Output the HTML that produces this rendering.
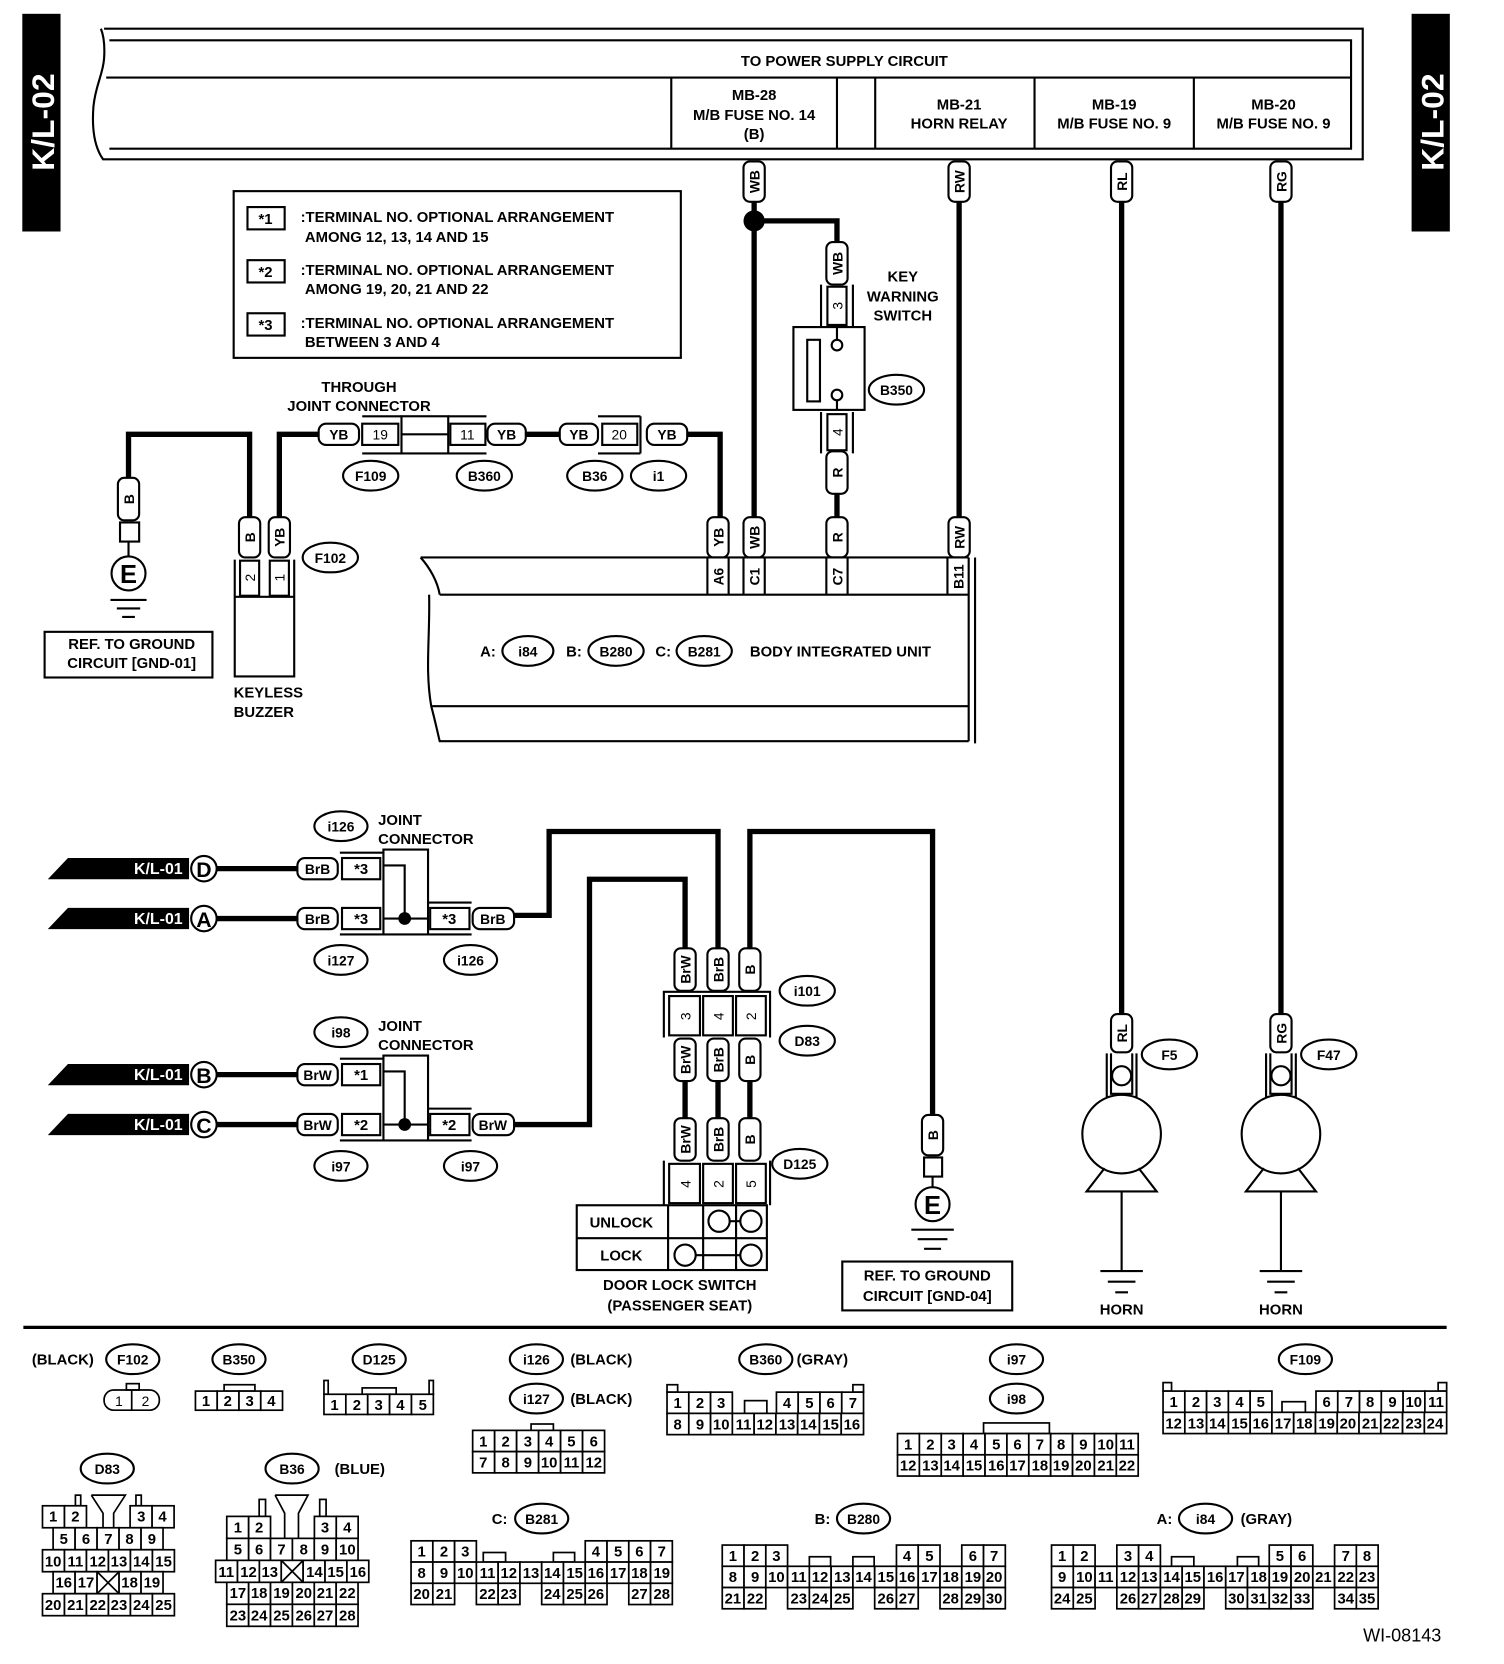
<!DOCTYPE html>
<html><head><meta charset="utf-8">
<style>
html,body{margin:0;padding:0;background:#fff;}
svg{display:block;}
text{font-family:"Liberation Sans",Arial,sans-serif;font-weight:bold;font-size:14px;fill:#000;}
.m{text-anchor:middle;}
.n{font-weight:normal;font-size:13px;text-anchor:middle;}
.g rect{fill:#fff;stroke:#000;stroke-width:1.6;}
.s{fill:none;stroke:#000;stroke-width:2;}
.w{fill:none;stroke:#000;stroke-width:5;}
.t{fill:#fff;stroke:#000;stroke-width:2;}
.o{fill:#fff;stroke:#000;stroke-width:2;}
.f{fill:#fff;text-anchor:end;font-size:15px;font-weight:bold;}
</style></head>
<body>
<svg width="1504" height="1664" viewBox="0 0 1416 1567" preserveAspectRatio="none" xmlns="http://www.w3.org/2000/svg">
<rect x="21" y="13" width="36" height="205" fill="#000"/>
<text transform="translate(51,115) rotate(-90)" class="m" style="font-size:30px;fill:#fff">K/L-02</text>
<rect x="1329" y="13" width="36" height="205" fill="#000"/>
<text transform="translate(1359,115) rotate(-90)" class="m" style="font-size:30px;fill:#fff">K/L-02</text>

<path class="s" d="M98,27 L1283,27 L1283,150 L97,150 C90,140 86,125 88,100 C90,80 97,70 98,55 C99,40 97,32 95,27" />
<path class="s" d="M103,38 L1272,38 L1272,140 L103,140 M100,73 L1272,73 M632,73 V140 M788,73 V140 M824,73 V140 M974,73 V140 M1124,73 V140"/>
<text x="795" y="62" class="m">TO POWER SUPPLY CIRCUIT</text>
<text x="710" y="94" class="m">MB-28</text><text x="710" y="113" class="m">M/B FUSE NO. 14</text><text x="710" y="131" class="m">(B)</text>
<text x="903" y="103" class="m">MB-21</text><text x="903" y="121" class="m">HORN RELAY</text>
<text x="1049" y="103" class="m">MB-19</text><text x="1049" y="121" class="m">M/B FUSE NO. 9</text>
<text x="1199" y="103" class="m">MB-20</text><text x="1199" y="121" class="m">M/B FUSE NO. 9</text>

<rect x="220" y="180" width="421" height="157" class="s"/>
<rect x="233" y="195" width="35" height="21" class="s"/><text x="250" y="211" class="m">*1</text>
<text x="283" y="209">:TERMINAL NO.  OPTIONAL ARRANGEMENT</text><text x="287" y="228">AMONG 12, 13, 14 AND 15</text>
<rect x="233" y="245" width="35" height="21" class="s"/><text x="250" y="261" class="m">*2</text>
<text x="283" y="259">:TERMINAL NO.  OPTIONAL ARRANGEMENT</text><text x="287" y="277">AMONG 19, 20, 21 AND 22</text>
<rect x="233" y="295" width="35" height="21" class="s"/><text x="250" y="311" class="m">*3</text>
<text x="283" y="309">:TERMINAL NO.  OPTIONAL ARRANGEMENT</text><text x="287" y="327">BETWEEN 3 AND 4</text>

<path class="w" d="M710,190 V500 M710,208 H788 V228 M788,465 V487 M903,190 V487 M1056,190 V955 M1206,190 V955"/>
<circle cx="710" cy="208" r="10" fill="#000"/>
<rect x="700" y="152" width="20" height="38" rx="6" class="t"/><text transform="translate(715,171) rotate(-90)" class="m" style="font-size:13px">WB</text>
<rect x="893" y="152" width="20" height="38" rx="6" class="t"/><text transform="translate(908,171) rotate(-90)" class="m" style="font-size:13px">RW</text>
<rect x="1046" y="152" width="20" height="38" rx="6" class="t"/><text transform="translate(1061,171) rotate(-90)" class="m" style="font-size:13px">RL</text>
<rect x="1196" y="152" width="20" height="38" rx="6" class="t"/><text transform="translate(1211,171) rotate(-90)" class="m" style="font-size:13px">RG</text>
<rect x="778" y="228" width="20" height="40" rx="6" class="t"/><text transform="translate(793,248) rotate(-90)" class="m" style="font-size:13px">WB</text>
<path class="s" d="M773,268 V308 M803,268 V308 M773,388 V427 M803,388 V427"/>
<rect x="779" y="270" width="18" height="36" class="s"/><text transform="translate(793,288) rotate(-90)" class="m n">3</text>
<rect x="747" y="308" width="67" height="78" class="s"/>
<rect x="760" y="320" width="12" height="58" class="s"/>
<path class="s" d="M788,308 V320 M788,377 V386"/>
<circle cx="788" cy="325" r="5" class="o"/><circle cx="788" cy="372" r="5" class="o"/>
<rect x="779" y="390" width="18" height="34" class="s"/><text transform="translate(793,407) rotate(-90)" class="m n">4</text>
<rect x="778" y="425" width="20" height="40" rx="6" class="t"/><text transform="translate(793,445) rotate(-90)" class="m" style="font-size:13px">R</text>
<ellipse cx="844" cy="367" rx="26" ry="14" class="o"/><text x="844" y="372" class="m" style="font-size:13px">B350</text>
<text x="850" y="265" class="m">KEY</text><text x="850" y="284" class="m">WARNING</text><text x="850" y="302" class="m">SWITCH</text>

<path class="w" d="M263,487 V409 H300 M493,409 H527 M647,409 H678 V487 M235,487 V409 H121 V450"/>
<path class="s" d="M341,392 H378 M341,427 H378 M422,392 H458 M422,427 H458 M563,392 H603 M563,427 H603 M603,392 V427"/>
<rect x="300" y="399" width="38" height="20" rx="7" class="t"/><text x="319" y="414" class="m" style="font-size:13px">YB</text>
<rect x="341" y="399" width="34" height="20" class="s"/><text x="358" y="414" class="m n">19</text>
<rect x="378" y="392" width="44" height="35" class="s"/><path class="s" d="M378,409 H422"/>
<rect x="424" y="399" width="33" height="20" class="s"/><text x="440" y="414" class="m n">11</text>
<rect x="459" y="399" width="36" height="20" rx="7" class="t"/><text x="477" y="414" class="m" style="font-size:13px">YB</text>
<rect x="527" y="399" width="36" height="20" rx="7" class="t"/><text x="545" y="414" class="m" style="font-size:13px">YB</text>
<rect x="567" y="399" width="33" height="20" class="s"/><text x="583" y="414" class="m n">20</text>
<rect x="609" y="399" width="38" height="20" rx="7" class="t"/><text x="628" y="414" class="m" style="font-size:13px">YB</text>
<text x="338" y="369" class="m">THROUGH</text><text x="338" y="387" class="m">JOINT CONNECTOR</text>
<ellipse cx="349" cy="448" rx="26" ry="14" class="o"/><text x="349" y="453" class="m" style="font-size:13px">F109</text>
<ellipse cx="456" cy="448" rx="26" ry="14" class="o"/><text x="456" y="453" class="m" style="font-size:13px">B360</text>
<ellipse cx="560" cy="448" rx="26" ry="14" class="o"/><text x="560" y="453" class="m" style="font-size:13px">B36</text>
<ellipse cx="620" cy="448" rx="26" ry="14" class="o"/><text x="620" y="453" class="m" style="font-size:13px">i1</text>

<rect x="111" y="450" width="20" height="40" rx="6" class="t"/><text transform="translate(126,470) rotate(-90)" class="m" style="font-size:13px">B</text>
<rect x="113" y="492" width="18" height="18" class="s"/>
<path class="s" d="M121,510 V524"/>
<circle cx="121" cy="540" r="16" class="o"/><text x="121" y="549" class="m" style="font-size:24px">E</text>
<path class="s" d="M104,565 H138 M110,573 H132 M115,581 H127"/>
<rect x="42" y="595" width="158" height="43" class="s"/>
<text x="124" y="611" class="m">REF. TO GROUND</text><text x="124" y="629" class="m">CIRCUIT [GND-01]</text>
<rect x="225" y="487" width="20" height="38" rx="6" class="t"/><text transform="translate(240,506) rotate(-90)" class="m" style="font-size:13px">B</text>
<rect x="253" y="487" width="20" height="38" rx="6" class="t"/><text transform="translate(268,506) rotate(-90)" class="m" style="font-size:13px">YB</text>
<path class="s" d="M221,527 V637 H277 V527 M221,562 H277"/>
<rect x="226" y="528" width="18" height="33" class="s"/><text transform="translate(240,544) rotate(-90)" class="m n">2</text>
<rect x="254" y="528" width="18" height="33" class="s"/><text transform="translate(268,544) rotate(-90)" class="m n">1</text>
<ellipse cx="311" cy="525" rx="26" ry="14" class="o"/><text x="311" y="530" class="m" style="font-size:13px">F102</text>
<text x="220" y="657">KEYLESS</text><text x="220" y="675">BUZZER</text>

<rect x="666" y="487" width="20" height="38" rx="6" class="t"/><text transform="translate(681,506) rotate(-90)" class="m" style="font-size:13px">YB</text>
<rect x="700" y="487" width="20" height="38" rx="6" class="t"/><text transform="translate(715,506) rotate(-90)" class="m" style="font-size:13px">WB</text>
<rect x="778" y="487" width="20" height="38" rx="6" class="t"/><text transform="translate(793,506) rotate(-90)" class="m" style="font-size:13px">R</text>
<rect x="893" y="487" width="20" height="38" rx="6" class="t"/><text transform="translate(908,506) rotate(-90)" class="m" style="font-size:13px">RW</text>
<path class="s" d="M396,525 H912 M912,525 V698 M918,525 V700 M396,525 C405,535 412,548 414,560 M414,560 H912 M404,560 C405,600 400,630 406,665 M406,665 H912 M406,665 C410,680 412,690 414,698 H912"/>
<path class="s" d="M666,525 V560 M686,525 V560 M700,525 V560 M720,525 V560 M778,525 V560 M798,525 V560 M892,525 V560"/>
<text transform="translate(681,543) rotate(-90)" class="m" style="font-size:13px">A6</text>
<text transform="translate(715,543) rotate(-90)" class="m" style="font-size:13px">C1</text>
<text transform="translate(793,543) rotate(-90)" class="m" style="font-size:13px">C7</text>
<text transform="translate(907,543) rotate(-90)" class="m" style="font-size:13px">B11</text>
<text x="452" y="618">A:</text><ellipse cx="497" cy="613" rx="24" ry="14" class="o"/><text x="497" y="618" class="m" style="font-size:13px">i84</text>
<text x="533" y="618">B:</text><ellipse cx="580" cy="613" rx="26" ry="14" class="o"/><text x="580" y="618" class="m" style="font-size:13px">B280</text>
<text x="617" y="618">C:</text><ellipse cx="663" cy="613" rx="26" ry="14" class="o"/><text x="663" y="618" class="m" style="font-size:13px">B281</text>
<text x="706" y="618">BODY INTEGRATED UNIT</text>

<path d="M64,808 H178 V828 H45 Z" fill="#000"/><text x="172" y="823" class="f">K/L-01</text>
<path d="M64,855 H178 V875 H45 Z" fill="#000"/><text x="172" y="870" class="f">K/L-01</text>
<path d="M64,1002 H178 V1022 H45 Z" fill="#000"/><text x="172" y="1017" class="f">K/L-01</text>
<path d="M64,1049 H178 V1069 H45 Z" fill="#000"/><text x="172" y="1064" class="f">K/L-01</text>
<path class="w" d="M204,818 H280 M204,865 H280 M204,1012 H280 M204,1059 H280"/>
<circle cx="192" cy="818" r="12" class="o"/><text x="192" y="826" class="m" style="font-size:20px">D</text>
<circle cx="192" cy="865" r="12" class="o"/><text x="192" y="873" class="m" style="font-size:20px">A</text>
<circle cx="192" cy="1012" r="12" class="o"/><text x="192" y="1020" class="m" style="font-size:20px">B</text>
<circle cx="192" cy="1059" r="12" class="o"/><text x="192" y="1067" class="m" style="font-size:20px">C</text>

<ellipse cx="321" cy="778" rx="25" ry="14" class="o"/><text x="321" y="783" class="m" style="font-size:13px">i126</text>
<text x="356" y="777">JOINT</text><text x="356" y="795">CONNECTOR</text>
<rect x="280" y="808" width="38" height="20" rx="7" class="t"/><text x="299" y="823" class="m" style="font-size:13px">BrB</text>
<rect x="280" y="855" width="38" height="20" rx="7" class="t"/><text x="299" y="870" class="m" style="font-size:13px">BrB</text>
<rect x="322" y="808" width="36" height="20" class="s"/><text x="340" y="823" class="m">*3</text>
<rect x="322" y="855" width="36" height="20" class="s"/><text x="340" y="870" class="m">*3</text>
<path class="s" d="M320,803 H361 M320,880 H361 M361,800 H403 V880 H361 Z M361,815 H381 V865 M361,865 H403 M404,850 H444 M404,880 H444"/>
<circle cx="381" cy="865" r="6" fill="#000"/>
<rect x="405" y="855" width="37" height="20" class="s"/><text x="423" y="870" class="m">*3</text>
<rect x="445" y="855" width="39" height="20" rx="7" class="t"/><text x="464" y="870" class="m" style="font-size:13px">BrB</text>
<ellipse cx="321" cy="904" rx="25" ry="14" class="o"/><text x="321" y="909" class="m" style="font-size:13px">i127</text>
<ellipse cx="443" cy="904" rx="25" ry="14" class="o"/><text x="443" y="909" class="m" style="font-size:13px">i126</text>

<ellipse cx="321" cy="972" rx="25" ry="14" class="o"/><text x="321" y="977" class="m" style="font-size:13px">i98</text>
<text x="356" y="971">JOINT</text><text x="356" y="989">CONNECTOR</text>
<rect x="280" y="1002" width="38" height="20" rx="7" class="t"/><text x="299" y="1017" class="m" style="font-size:13px">BrW</text>
<rect x="280" y="1049" width="38" height="20" rx="7" class="t"/><text x="299" y="1064" class="m" style="font-size:13px">BrW</text>
<rect x="322" y="1002" width="36" height="20" class="s"/><text x="340" y="1017" class="m">*1</text>
<rect x="322" y="1049" width="36" height="20" class="s"/><text x="340" y="1064" class="m">*2</text>
<path class="s" d="M320,997 H361 M320,1074 H361 M361,994 H403 V1074 H361 Z M361,1009 H381 V1059 M361,1059 H403 M404,1044 H444 M404,1074 H444"/>
<circle cx="381" cy="1059" r="6" fill="#000"/>
<rect x="405" y="1049" width="37" height="20" class="s"/><text x="423" y="1064" class="m">*2</text>
<rect x="445" y="1049" width="39" height="20" rx="7" class="t"/><text x="464" y="1064" class="m" style="font-size:13px">BrW</text>
<ellipse cx="321" cy="1098" rx="25" ry="14" class="o"/><text x="321" y="1103" class="m" style="font-size:13px">i97</text>
<ellipse cx="443" cy="1098" rx="25" ry="14" class="o"/><text x="443" y="1103" class="m" style="font-size:13px">i97</text>

<path class="w" d="M484,862 H517 V783 H676 V895 M484,1059 H555 V828 H645 V895 M706,895 V783 H878 V1050 M645,1018 V1055 M676,1018 V1055 M706,1018 V1055"/>
<rect x="635" y="893" width="20" height="40" rx="6" class="t"/><text transform="translate(650,913) rotate(-90)" class="m" style="font-size:13px">BrW</text>
<rect x="666" y="893" width="20" height="40" rx="6" class="t"/><text transform="translate(681,913) rotate(-90)" class="m" style="font-size:13px">BrB</text>
<rect x="696" y="893" width="20" height="40" rx="6" class="t"/><text transform="translate(711,913) rotate(-90)" class="m" style="font-size:13px">B</text>
<path class="s" d="M625,933 V977 M725,933 V977 M625,934 H725"/>
<rect x="630" y="938" width="29" height="37" class="s"/><text transform="translate(650,957) rotate(-90)" class="m n">3</text>
<rect x="662" y="938" width="28" height="37" class="s"/><text transform="translate(681,957) rotate(-90)" class="m n">4</text>
<rect x="693" y="938" width="28" height="37" class="s"/><text transform="translate(712,957) rotate(-90)" class="m n">2</text>
<ellipse cx="760" cy="933" rx="26" ry="14" class="o"/><text x="760" y="938" class="m" style="font-size:13px">i101</text>
<ellipse cx="760" cy="980" rx="26" ry="14" class="o"/><text x="760" y="985" class="m" style="font-size:13px">D83</text>
<rect x="635" y="978" width="20" height="40" rx="6" class="t"/><text transform="translate(650,998) rotate(-90)" class="m" style="font-size:13px">BrW</text>
<rect x="666" y="978" width="20" height="40" rx="6" class="t"/><text transform="translate(681,998) rotate(-90)" class="m" style="font-size:13px">BrB</text>
<rect x="696" y="978" width="20" height="40" rx="6" class="t"/><text transform="translate(711,998) rotate(-90)" class="m" style="font-size:13px">B</text>
<rect x="635" y="1053" width="20" height="40" rx="6" class="t"/><text transform="translate(650,1073) rotate(-90)" class="m" style="font-size:13px">BrW</text>
<rect x="666" y="1053" width="20" height="40" rx="6" class="t"/><text transform="translate(681,1073) rotate(-90)" class="m" style="font-size:13px">BrB</text>
<rect x="696" y="1053" width="20" height="40" rx="6" class="t"/><text transform="translate(711,1073) rotate(-90)" class="m" style="font-size:13px">B</text>
<path class="s" d="M625,1093 V1135 M725,1093 V1135"/>
<rect x="630" y="1096" width="29" height="37" class="s"/><text transform="translate(650,1115) rotate(-90)" class="m n">4</text>
<rect x="662" y="1096" width="28" height="37" class="s"/><text transform="translate(681,1115) rotate(-90)" class="m n">2</text>
<rect x="693" y="1096" width="28" height="37" class="s"/><text transform="translate(712,1115) rotate(-90)" class="m n">5</text>
<ellipse cx="753" cy="1096" rx="26" ry="14" class="o"/><text x="753" y="1101" class="m" style="font-size:13px">D125</text>
<rect x="543" y="1135" width="179" height="61" class="s"/>
<path class="s" d="M543,1166 H722 M629,1135 V1196 M662,1135 V1196 M693,1135 V1196 M687,1150 H697 M655,1182 H697"/>
<circle cx="677" cy="1150" r="10" class="o"/><circle cx="707" cy="1150" r="10" class="o"/>
<circle cx="645" cy="1182" r="10" class="o"/><circle cx="707" cy="1182" r="10" class="o"/>
<text x="585" y="1156" class="m">UNLOCK</text><text x="585" y="1187" class="m">LOCK</text>
<text x="640" y="1215" class="m">DOOR LOCK SWITCH</text><text x="640" y="1234" class="m">(PASSENGER SEAT)</text>
<rect x="868" y="1050" width="20" height="38" rx="6" class="t"/><text transform="translate(883,1069) rotate(-90)" class="m" style="font-size:13px">B</text>
<rect x="870" y="1090" width="17" height="18" class="s"/>
<path class="s" d="M878,1108 V1118"/>
<circle cx="878" cy="1134" r="16" class="o"/><text x="878" y="1143" class="m" style="font-size:24px">E</text>
<path class="s" d="M858,1158 H898 M864,1167 H892 M870,1176 H886"/>
<rect x="793" y="1188" width="160" height="46" class="s"/>
<text x="873" y="1206" class="m">REF. TO GROUND</text><text x="873" y="1225" class="m">CIRCUIT [GND-04]</text>

<rect x="1046" y="955" width="20" height="36" rx="6" class="t"/><text transform="translate(1061,973) rotate(-90)" class="m" style="font-size:13px">RL</text>
<path class="s" d="M1042,992 V1033 H1070 V992 M1046,992 V1030 H1066 V992"/>
<circle cx="1056" cy="1013" r="9" class="o"/>
<circle cx="1056" cy="1068" r="37" class="o"/>
<path class="s" d="M1040,1100 L1023,1122 H1089 L1072,1100 M1056,1122 V1196 M1036,1197 H1076 M1043,1207 H1069 M1050,1217 H1062"/>
<ellipse cx="1101" cy="993" rx="26" ry="14" class="o"/><text x="1101" y="998" class="m" style="font-size:13px">F5</text>
<text x="1056" y="1238" class="m">HORN</text>
<rect x="1196" y="955" width="20" height="36" rx="6" class="t"/><text transform="translate(1211,973) rotate(-90)" class="m" style="font-size:13px">RG</text>
<path class="s" d="M1192,992 V1033 H1220 V992 M1196,992 V1030 H1216 V992"/>
<circle cx="1206" cy="1013" r="9" class="o"/>
<circle cx="1206" cy="1068" r="37" class="o"/>
<path class="s" d="M1190,1100 L1173,1122 H1239 L1222,1100 M1206,1122 V1196 M1186,1197 H1226 M1193,1207 H1219 M1200,1217 H1212"/>
<ellipse cx="1251" cy="993" rx="26" ry="14" class="o"/><text x="1251" y="998" class="m" style="font-size:13px">F47</text>
<text x="1206" y="1238" class="m">HORN</text>

<line x1="22" y1="1250" x2="1362" y2="1250" stroke="#000" stroke-width="3"/>

<text x="30" y="1285">(BLACK)</text>
<ellipse cx="125" cy="1280" rx="25" ry="14" class="o"/><text x="125" y="1285" class="m" style="font-size:13px">F102</text>
<ellipse cx="225" cy="1280" rx="25" ry="14" class="o"/><text x="225" y="1285" class="m" style="font-size:13px">B350</text>
<ellipse cx="357" cy="1280" rx="25" ry="14" class="o"/><text x="357" y="1285" class="m" style="font-size:13px">D125</text>
<ellipse cx="505" cy="1280" rx="25" ry="14" class="o"/><text x="505" y="1285" class="m" style="font-size:13px">i126</text><text x="537" y="1285">(BLACK)</text>
<ellipse cx="505" cy="1317" rx="25" ry="14" class="o"/><text x="505" y="1322" class="m" style="font-size:13px">i127</text><text x="537" y="1322">(BLACK)</text>
<ellipse cx="721" cy="1280" rx="25" ry="14" class="o"/><text x="721" y="1285" class="m" style="font-size:13px">B360</text><text x="750" y="1285">(GRAY)</text>
<ellipse cx="957" cy="1280" rx="25" ry="14" class="o"/><text x="957" y="1285" class="m" style="font-size:13px">i97</text>
<ellipse cx="957" cy="1317" rx="25" ry="14" class="o"/><text x="957" y="1322" class="m" style="font-size:13px">i98</text>
<ellipse cx="1229" cy="1280" rx="25" ry="14" class="o"/><text x="1229" y="1285" class="m" style="font-size:13px">F109</text>
<ellipse cx="101" cy="1383" rx="25" ry="14" class="o"/><text x="101" y="1388" class="m" style="font-size:13px">D83</text>
<ellipse cx="275" cy="1383" rx="25" ry="14" class="o"/><text x="275" y="1388" class="m" style="font-size:13px">B36</text><text x="315" y="1388">(BLUE)</text>
<text x="463" y="1435">C:</text><ellipse cx="510" cy="1430" rx="25" ry="14" class="o"/><text x="510" y="1435" class="m" style="font-size:13px">B281</text>
<text x="767" y="1435">B:</text><ellipse cx="813" cy="1430" rx="25" ry="14" class="o"/><text x="813" y="1435" class="m" style="font-size:13px">B280</text>
<text x="1089" y="1435">A:</text><ellipse cx="1135" cy="1430" rx="25" ry="14" class="o"/><text x="1135" y="1435" class="m" style="font-size:13px">i84</text><text x="1168" y="1435">(GRAY)</text>
<text x="1357" y="1546" style="text-anchor:end;font-weight:normal;font-size:17px">WI-08143</text>

<rect x="119" y="1303" width="12" height="6" class="s" style="stroke-width:1.6"/>
<rect x="98" y="1309" width="52" height="19" rx="9" class="s" style="stroke-width:1.6"/>
<path class="s" d="M124,1309 V1328" style="stroke-width:1.6"/>
<text x="112" y="1324" class="n">1</text><text x="137" y="1324" class="n">2</text>

<g class="g">
<rect x="211" y="1304" width="29" height="6"/>
<rect x="184" y="1310" width="20.5" height="18"/><rect x="204.5" y="1310" width="20.5" height="18"/><rect x="225" y="1310" width="20.5" height="18"/><rect x="245.5" y="1310" width="20.5" height="18"/>
<rect x="305" y="1300" width="4" height="13"/><rect x="404" y="1300" width="4" height="13"/><rect x="341" y="1307" width="32" height="6"/>
<rect x="305" y="1313" width="20.6" height="19"/><rect x="325.6" y="1313" width="20.6" height="19"/><rect x="346.2" y="1313" width="20.6" height="19"/><rect x="366.8" y="1313" width="20.6" height="19"/><rect x="387.4" y="1313" width="20.6" height="19"/>
<rect x="500" y="1341" width="21" height="6"/>
<rect x="445" y="1347" width="20.7" height="20"/><rect x="465.7" y="1347" width="20.7" height="20"/><rect x="486.4" y="1347" width="20.7" height="20"/><rect x="507.1" y="1347" width="20.7" height="20"/><rect x="527.8" y="1347" width="20.7" height="20"/><rect x="548.5" y="1347" width="20.7" height="20"/>
<rect x="445" y="1367" width="20.7" height="20"/><rect x="465.7" y="1367" width="20.7" height="20"/><rect x="486.4" y="1367" width="20.7" height="20"/><rect x="507.1" y="1367" width="20.7" height="20"/><rect x="527.8" y="1367" width="20.7" height="20"/><rect x="548.5" y="1367" width="20.7" height="20"/>
<rect x="628" y="1304" width="10" height="7"/><rect x="803" y="1304" width="10" height="7"/><rect x="701" y="1319" width="21" height="12"/>
<rect x="628" y="1311" width="20.5" height="20"/><rect x="648.5" y="1311" width="20.5" height="20"/><rect x="669" y="1311" width="20.5" height="20"/>
<rect x="731" y="1311" width="20.5" height="20"/><rect x="751.5" y="1311" width="20.5" height="20"/><rect x="772" y="1311" width="20.5" height="20"/><rect x="792.5" y="1311" width="20.5" height="20"/>
<rect x="628" y="1331" width="20.5" height="20"/><rect x="648.5" y="1331" width="20.5" height="20"/><rect x="669" y="1331" width="20.5" height="20"/><rect x="689.5" y="1331" width="20.5" height="20"/><rect x="710" y="1331" width="20.5" height="20"/><rect x="730.5" y="1331" width="20.5" height="20"/><rect x="751" y="1331" width="20.5" height="20"/><rect x="771.5" y="1331" width="20.5" height="20"/><rect x="792" y="1331" width="21" height="20"/>
<rect x="926" y="1340" width="62" height="10"/>
<rect x="845" y="1350" width="20.6" height="20"/><rect x="865.6" y="1350" width="20.6" height="20"/><rect x="886.2" y="1350" width="20.6" height="20"/><rect x="906.8" y="1350" width="20.6" height="20"/><rect x="927.4" y="1350" width="20.6" height="20"/><rect x="948" y="1350" width="20.6" height="20"/><rect x="968.6" y="1350" width="20.6" height="20"/><rect x="989.2" y="1350" width="20.6" height="20"/><rect x="1009.8" y="1350" width="20.6" height="20"/><rect x="1030.4" y="1350" width="20.6" height="20"/><rect x="1051" y="1350" width="20.6" height="20"/>
<rect x="845" y="1370" width="20.6" height="20"/><rect x="865.6" y="1370" width="20.6" height="20"/><rect x="886.2" y="1370" width="20.6" height="20"/><rect x="906.8" y="1370" width="20.6" height="20"/><rect x="927.4" y="1370" width="20.6" height="20"/><rect x="948" y="1370" width="20.6" height="20"/><rect x="968.6" y="1370" width="20.6" height="20"/><rect x="989.2" y="1370" width="20.6" height="20"/><rect x="1009.8" y="1370" width="20.6" height="20"/><rect x="1030.4" y="1370" width="20.6" height="20"/><rect x="1051" y="1370" width="20.6" height="20"/>
<rect x="1095" y="1302" width="8" height="8"/><rect x="1354" y="1302" width="8" height="8"/><rect x="1207" y="1320" width="22" height="10"/>
<rect x="1095" y="1310" width="20.5" height="20"/><rect x="1115.5" y="1310" width="20.5" height="20"/><rect x="1136" y="1310" width="20.5" height="20"/><rect x="1156.5" y="1310" width="20.5" height="20"/><rect x="1177" y="1310" width="20.5" height="20"/>
<rect x="1239" y="1310" width="20.5" height="20"/><rect x="1259.5" y="1310" width="20.5" height="20"/><rect x="1280" y="1310" width="20.5" height="20"/><rect x="1300.5" y="1310" width="20.5" height="20"/><rect x="1321" y="1310" width="20.5" height="20"/><rect x="1341.5" y="1310" width="20.5" height="20"/>
<rect x="1095" y="1330" width="20.5" height="20"/><rect x="1115.5" y="1330" width="20.5" height="20"/><rect x="1136" y="1330" width="20.5" height="20"/><rect x="1156.5" y="1330" width="20.5" height="20"/><rect x="1177" y="1330" width="20.5" height="20"/><rect x="1197.5" y="1330" width="20.5" height="20"/><rect x="1218" y="1330" width="20.5" height="20"/><rect x="1238.5" y="1330" width="20.5" height="20"/><rect x="1259" y="1330" width="20.5" height="20"/><rect x="1279.5" y="1330" width="20.5" height="20"/><rect x="1300" y="1330" width="20.5" height="20"/><rect x="1320.5" y="1330" width="20.5" height="20"/><rect x="1341" y="1330" width="21" height="20"/>
<rect x="71" y="1408" width="5" height="10"/><rect x="128" y="1408" width="5" height="10"/>
<rect x="40" y="1418" width="20.7" height="20.7"/><rect x="60.7" y="1418" width="20.7" height="20.7"/><rect x="122.5" y="1418" width="20.7" height="20.7"/><rect x="143.2" y="1418" width="20.7" height="20.7"/>
<rect x="50" y="1438.7" width="20.7" height="20.7"/><rect x="70.7" y="1438.7" width="20.7" height="20.7"/><rect x="91.4" y="1438.7" width="20.7" height="20.7"/><rect x="112.1" y="1438.7" width="20.7" height="20.7"/><rect x="132.8" y="1438.7" width="20.7" height="20.7"/>
<rect x="40" y="1459.4" width="20.7" height="20.7"/><rect x="60.7" y="1459.4" width="20.7" height="20.7"/><rect x="81.4" y="1459.4" width="20.7" height="20.7"/><rect x="102.1" y="1459.4" width="20.7" height="20.7"/><rect x="122.8" y="1459.4" width="20.7" height="20.7"/><rect x="143.5" y="1459.4" width="20.7" height="20.7"/>
<rect x="50" y="1480.1" width="20.7" height="20.7"/><rect x="70.7" y="1480.1" width="20.7" height="20.7"/><rect x="91.4" y="1480.1" width="20.7" height="20.7"/><rect x="112.1" y="1480.1" width="20.7" height="20.7"/><rect x="132.8" y="1480.1" width="20.7" height="20.7"/>
<rect x="40" y="1500.8" width="20.7" height="20.7"/><rect x="60.7" y="1500.8" width="20.7" height="20.7"/><rect x="81.4" y="1500.8" width="20.7" height="20.7"/><rect x="102.1" y="1500.8" width="20.7" height="20.7"/><rect x="122.8" y="1500.8" width="20.7" height="20.7"/><rect x="143.5" y="1500.8" width="20.7" height="20.7"/>
<rect x="244" y="1412" width="6" height="16"/><rect x="301" y="1412" width="6" height="16"/>
<rect x="213.5" y="1428" width="20.6" height="20.7"/><rect x="234.1" y="1428" width="20.6" height="20.7"/><rect x="296" y="1428" width="20.6" height="20.7"/><rect x="316.6" y="1428" width="20.6" height="20.7"/>
<rect x="213.5" y="1448.7" width="20.6" height="20.7"/><rect x="234.1" y="1448.7" width="20.6" height="20.7"/><rect x="254.7" y="1448.7" width="20.6" height="20.7"/><rect x="275.3" y="1448.7" width="20.6" height="20.7"/><rect x="295.9" y="1448.7" width="20.6" height="20.7"/><rect x="316.5" y="1448.7" width="20.6" height="20.7"/>
<rect x="203" y="1469.4" width="20.6" height="20.7"/><rect x="223.6" y="1469.4" width="20.6" height="20.7"/><rect x="244.2" y="1469.4" width="20.6" height="20.7"/><rect x="264.8" y="1469.4" width="20.6" height="20.7"/><rect x="285.4" y="1469.4" width="20.6" height="20.7"/><rect x="306" y="1469.4" width="20.6" height="20.7"/><rect x="326.6" y="1469.4" width="20.6" height="20.7"/>
<rect x="213.5" y="1490.1" width="20.6" height="20.7"/><rect x="234.1" y="1490.1" width="20.6" height="20.7"/><rect x="254.7" y="1490.1" width="20.6" height="20.7"/><rect x="275.3" y="1490.1" width="20.6" height="20.7"/><rect x="295.9" y="1490.1" width="20.6" height="20.7"/><rect x="316.5" y="1490.1" width="20.6" height="20.7"/>
<rect x="213.5" y="1510.8" width="20.6" height="20.7"/><rect x="234.1" y="1510.8" width="20.6" height="20.7"/><rect x="254.7" y="1510.8" width="20.6" height="20.7"/><rect x="275.3" y="1510.8" width="20.6" height="20.7"/><rect x="295.9" y="1510.8" width="20.6" height="20.7"/><rect x="316.5" y="1510.8" width="20.6" height="20.7"/>
<rect x="455" y="1462" width="21" height="9"/><rect x="521" y="1462" width="20" height="9"/>
<rect x="387" y="1451" width="20.5" height="20"/><rect x="407.5" y="1451" width="20.5" height="20"/><rect x="428" y="1451" width="20.5" height="20"/>
<rect x="551" y="1451" width="20.5" height="20"/><rect x="571.5" y="1451" width="20.5" height="20"/><rect x="592" y="1451" width="20.5" height="20"/><rect x="612.5" y="1451" width="20.5" height="20"/>
<rect x="387" y="1471" width="20.5" height="20"/><rect x="407.5" y="1471" width="20.5" height="20"/><rect x="428" y="1471" width="20.5" height="20"/><rect x="448.5" y="1471" width="20.5" height="20"/><rect x="469" y="1471" width="20.5" height="20"/><rect x="489.5" y="1471" width="20.5" height="20"/><rect x="510" y="1471" width="20.5" height="20"/><rect x="530.5" y="1471" width="20.5" height="20"/><rect x="551" y="1471" width="20.5" height="20"/><rect x="571.5" y="1471" width="20.5" height="20"/><rect x="592" y="1471" width="20.5" height="20"/><rect x="612.5" y="1471" width="20.5" height="20"/>
<rect x="387" y="1491" width="20.5" height="20"/><rect x="407.5" y="1491" width="20.5" height="20"/><rect x="448.5" y="1491" width="20.5" height="20"/><rect x="469" y="1491" width="20.5" height="20"/><rect x="510" y="1491" width="20.5" height="20"/><rect x="530.5" y="1491" width="20.5" height="20"/><rect x="551" y="1491" width="20.5" height="20"/><rect x="592" y="1491" width="20.5" height="20"/><rect x="612.5" y="1491" width="20.5" height="20"/>
<rect x="762" y="1466" width="20" height="9"/><rect x="803" y="1466" width="20" height="9"/>
<rect x="680" y="1455" width="20.5" height="20"/><rect x="700.5" y="1455" width="20.5" height="20"/><rect x="721" y="1455" width="20.5" height="20"/>
<rect x="844" y="1455" width="20.5" height="20"/><rect x="864.5" y="1455" width="20.5" height="20"/><rect x="905.5" y="1455" width="20.5" height="20"/><rect x="926" y="1455" width="20.5" height="20"/>
<rect x="680" y="1475" width="20.5" height="20"/><rect x="700.5" y="1475" width="20.5" height="20"/><rect x="721" y="1475" width="20.5" height="20"/><rect x="741.5" y="1475" width="20.5" height="20"/><rect x="762" y="1475" width="20.5" height="20"/><rect x="782.5" y="1475" width="20.5" height="20"/><rect x="803" y="1475" width="20.5" height="20"/><rect x="823.5" y="1475" width="20.5" height="20"/><rect x="844" y="1475" width="20.5" height="20"/><rect x="864.5" y="1475" width="20.5" height="20"/><rect x="885" y="1475" width="20.5" height="20"/><rect x="905.5" y="1475" width="20.5" height="20"/><rect x="926" y="1475" width="20.5" height="20"/>
<rect x="680" y="1495" width="20.5" height="20"/><rect x="700.5" y="1495" width="20.5" height="20"/><rect x="741.5" y="1495" width="20.5" height="20"/><rect x="762" y="1495" width="20.5" height="20"/><rect x="782.5" y="1495" width="20.5" height="20"/><rect x="823.5" y="1495" width="20.5" height="20"/><rect x="844" y="1495" width="20.5" height="20"/><rect x="885" y="1495" width="20.5" height="20"/><rect x="905.5" y="1495" width="20.5" height="20"/><rect x="926" y="1495" width="20.5" height="20"/>
<rect x="1103" y="1466" width="21" height="9"/><rect x="1165" y="1466" width="20" height="9"/>
<rect x="990" y="1455" width="20.5" height="20"/><rect x="1010.5" y="1455" width="20.5" height="20"/><rect x="1051.5" y="1455" width="20.5" height="20"/><rect x="1072" y="1455" width="20.5" height="20"/>
<rect x="1195" y="1455" width="20.5" height="20"/><rect x="1215.5" y="1455" width="20.5" height="20"/><rect x="1256.5" y="1455" width="20.5" height="20"/><rect x="1277" y="1455" width="20.5" height="20"/>
<rect x="990" y="1475" width="20.5" height="20"/><rect x="1010.5" y="1475" width="20.5" height="20"/><rect x="1031" y="1475" width="20.5" height="20"/><rect x="1051.5" y="1475" width="20.5" height="20"/><rect x="1072" y="1475" width="20.5" height="20"/><rect x="1092.5" y="1475" width="20.5" height="20"/><rect x="1113" y="1475" width="20.5" height="20"/><rect x="1133.5" y="1475" width="20.5" height="20"/><rect x="1154" y="1475" width="20.5" height="20"/><rect x="1174.5" y="1475" width="20.5" height="20"/><rect x="1195" y="1475" width="20.5" height="20"/><rect x="1215.5" y="1475" width="20.5" height="20"/><rect x="1236" y="1475" width="20.5" height="20"/><rect x="1256.5" y="1475" width="20.5" height="20"/><rect x="1277" y="1475" width="20.5" height="20"/>
<rect x="990" y="1495" width="20.5" height="20"/><rect x="1010.5" y="1495" width="20.5" height="20"/><rect x="1051.5" y="1495" width="20.5" height="20"/><rect x="1072" y="1495" width="20.5" height="20"/><rect x="1092.5" y="1495" width="20.5" height="20"/><rect x="1113" y="1495" width="20.5" height="20"/><rect x="1154" y="1495" width="20.5" height="20"/><rect x="1174.5" y="1495" width="20.5" height="20"/><rect x="1195" y="1495" width="20.5" height="20"/><rect x="1215.5" y="1495" width="20.5" height="20"/><rect x="1256.5" y="1495" width="20.5" height="20"/><rect x="1277" y="1495" width="20.5" height="20"/>
</g>
<path class="s" style="stroke-width:1.6" d="M86,1408 H118 L107,1425 V1439 M86,1408 L97,1425 V1439 M259,1408 H290 L281,1425 V1449 M259,1408 L268,1425 V1449 M91.4,1480.1 L112.1,1500.8 M112.1,1480.1 L91.4,1500.8 M264.8,1469.4 L285.4,1490.1 M285.4,1469.4 L264.8,1490.1"/>

<g class="n">
<text x="194" y="1324">1</text><text x="214.5" y="1324">2</text><text x="235" y="1324">3</text><text x="255.5" y="1324">4</text>
<text x="315" y="1328">1</text><text x="336" y="1328">2</text><text x="356.5" y="1328">3</text><text x="377" y="1328">4</text><text x="398" y="1328">5</text>
<text x="455" y="1362">1</text><text x="476" y="1362">2</text><text x="497" y="1362">3</text><text x="517" y="1362">4</text><text x="538" y="1362">5</text><text x="559" y="1362">6</text>
<text x="455" y="1382">7</text><text x="476" y="1382">8</text><text x="497" y="1382">9</text><text x="517" y="1382">10</text><text x="538" y="1382">11</text><text x="559" y="1382">12</text>
<text x="638" y="1326">1</text><text x="659" y="1326">2</text><text x="679" y="1326">3</text><text x="741" y="1326">4</text><text x="762" y="1326">5</text><text x="782" y="1326">6</text><text x="803" y="1326">7</text>
<text x="638" y="1346">8</text><text x="659" y="1346">9</text><text x="679" y="1346">10</text><text x="700" y="1346">11</text><text x="720" y="1346">12</text><text x="741" y="1346">13</text><text x="761" y="1346">14</text><text x="782" y="1346">15</text><text x="802" y="1346">16</text>
<text x="855" y="1365">1</text><text x="876" y="1365">2</text><text x="896" y="1365">3</text><text x="917" y="1365">4</text><text x="938" y="1365">5</text><text x="958" y="1365">6</text><text x="979" y="1365">7</text><text x="999" y="1365">8</text><text x="1020" y="1365">9</text><text x="1041" y="1365">10</text><text x="1061" y="1365">11</text>
<text x="855" y="1385">12</text><text x="876" y="1385">13</text><text x="896" y="1385">14</text><text x="917" y="1385">15</text><text x="938" y="1385">16</text><text x="958" y="1385">17</text><text x="979" y="1385">18</text><text x="999" y="1385">19</text><text x="1020" y="1385">20</text><text x="1041" y="1385">21</text><text x="1061" y="1385">22</text>
<text x="1105" y="1325">1</text><text x="1126" y="1325">2</text><text x="1146" y="1325">3</text><text x="1167" y="1325">4</text><text x="1187" y="1325">5</text><text x="1249" y="1325">6</text><text x="1270" y="1325">7</text><text x="1290" y="1325">8</text><text x="1311" y="1325">9</text><text x="1331" y="1325">10</text><text x="1352" y="1325">11</text>
<text x="1105" y="1345">12</text><text x="1126" y="1345">13</text><text x="1146" y="1345">14</text><text x="1167" y="1345">15</text><text x="1187" y="1345">16</text><text x="1208" y="1345">17</text><text x="1228" y="1345">18</text><text x="1249" y="1345">19</text><text x="1269" y="1345">20</text><text x="1290" y="1345">21</text><text x="1310" y="1345">22</text><text x="1331" y="1345">23</text><text x="1351" y="1345">24</text>
<text x="50" y="1433">1</text><text x="71" y="1433">2</text><text x="133" y="1433">3</text><text x="153" y="1433">4</text>
<text x="60" y="1454">5</text><text x="81" y="1454">6</text><text x="102" y="1454">7</text><text x="122" y="1454">8</text><text x="143" y="1454">9</text>
<text x="50" y="1475">10</text><text x="71" y="1475">11</text><text x="92" y="1475">12</text><text x="112" y="1475">13</text><text x="133" y="1475">14</text><text x="154" y="1475">15</text>
<text x="60" y="1495">16</text><text x="81" y="1495">17</text><text x="122" y="1495">18</text><text x="143" y="1495">19</text>
<text x="50" y="1516">20</text><text x="71" y="1516">21</text><text x="92" y="1516">22</text><text x="112" y="1516">23</text><text x="133" y="1516">24</text><text x="154" y="1516">25</text>
<text x="224" y="1443">1</text><text x="244" y="1443">2</text><text x="306" y="1443">3</text><text x="327" y="1443">4</text>
<text x="224" y="1464">5</text><text x="244" y="1464">6</text><text x="265" y="1464">7</text><text x="286" y="1464">8</text><text x="306" y="1464">9</text><text x="327" y="1464">10</text>
<text x="213" y="1485">11</text><text x="234" y="1485">12</text><text x="254" y="1485">13</text><text x="296" y="1485">14</text><text x="316" y="1485">15</text><text x="337" y="1485">16</text>
<text x="224" y="1505">17</text><text x="244" y="1505">18</text><text x="265" y="1505">19</text><text x="286" y="1505">20</text><text x="306" y="1505">21</text><text x="327" y="1505">22</text>
<text x="224" y="1526">23</text><text x="244" y="1526">24</text><text x="265" y="1526">25</text><text x="286" y="1526">26</text><text x="306" y="1526">27</text><text x="327" y="1526">28</text>
<text x="397" y="1466">1</text><text x="418" y="1466">2</text><text x="438" y="1466">3</text><text x="561" y="1466">4</text><text x="582" y="1466">5</text><text x="602" y="1466">6</text><text x="623" y="1466">7</text>
<text x="397" y="1486">8</text><text x="418" y="1486">9</text><text x="438" y="1486">10</text><text x="459" y="1486">11</text><text x="479" y="1486">12</text><text x="500" y="1486">13</text><text x="520" y="1486">14</text><text x="541" y="1486">15</text><text x="561" y="1486">16</text><text x="582" y="1486">17</text><text x="602" y="1486">18</text><text x="623" y="1486">19</text>
<text x="397" y="1506">20</text><text x="418" y="1506">21</text><text x="459" y="1506">22</text><text x="479" y="1506">23</text><text x="520" y="1506">24</text><text x="541" y="1506">25</text><text x="561" y="1506">26</text><text x="602" y="1506">27</text><text x="623" y="1506">28</text>
<text x="690" y="1470">1</text><text x="711" y="1470">2</text><text x="731" y="1470">3</text><text x="854" y="1470">4</text><text x="875" y="1470">5</text><text x="916" y="1470">6</text><text x="936" y="1470">7</text>
<text x="690" y="1490">8</text><text x="711" y="1490">9</text><text x="731" y="1490">10</text><text x="752" y="1490">11</text><text x="772" y="1490">12</text><text x="793" y="1490">13</text><text x="813" y="1490">14</text><text x="834" y="1490">15</text><text x="854" y="1490">16</text><text x="875" y="1490">17</text><text x="895" y="1490">18</text><text x="916" y="1490">19</text><text x="936" y="1490">20</text>
<text x="690" y="1510">21</text><text x="711" y="1510">22</text><text x="752" y="1510">23</text><text x="772" y="1510">24</text><text x="793" y="1510">25</text><text x="834" y="1510">26</text><text x="854" y="1510">27</text><text x="895" y="1510">28</text><text x="916" y="1510">29</text><text x="936" y="1510">30</text>
<text x="1000" y="1470">1</text><text x="1021" y="1470">2</text><text x="1062" y="1470">3</text><text x="1082" y="1470">4</text><text x="1205" y="1470">5</text><text x="1226" y="1470">6</text><text x="1267" y="1470">7</text><text x="1287" y="1470">8</text>
<text x="1000" y="1490">9</text><text x="1021" y="1490">10</text><text x="1041" y="1490">11</text><text x="1062" y="1490">12</text><text x="1082" y="1490">13</text><text x="1103" y="1490">14</text><text x="1123" y="1490">15</text><text x="1144" y="1490">16</text><text x="1164" y="1490">17</text><text x="1185" y="1490">18</text><text x="1205" y="1490">19</text><text x="1226" y="1490">20</text><text x="1246" y="1490">21</text><text x="1267" y="1490">22</text><text x="1287" y="1490">23</text>
<text x="1000" y="1510">24</text><text x="1021" y="1510">25</text><text x="1062" y="1510">26</text><text x="1082" y="1510">27</text><text x="1103" y="1510">28</text><text x="1123" y="1510">29</text><text x="1164" y="1510">30</text><text x="1185" y="1510">31</text><text x="1205" y="1510">32</text><text x="1226" y="1510">33</text><text x="1267" y="1510">34</text><text x="1287" y="1510">35</text>
</g>
</svg>
</body></html>
